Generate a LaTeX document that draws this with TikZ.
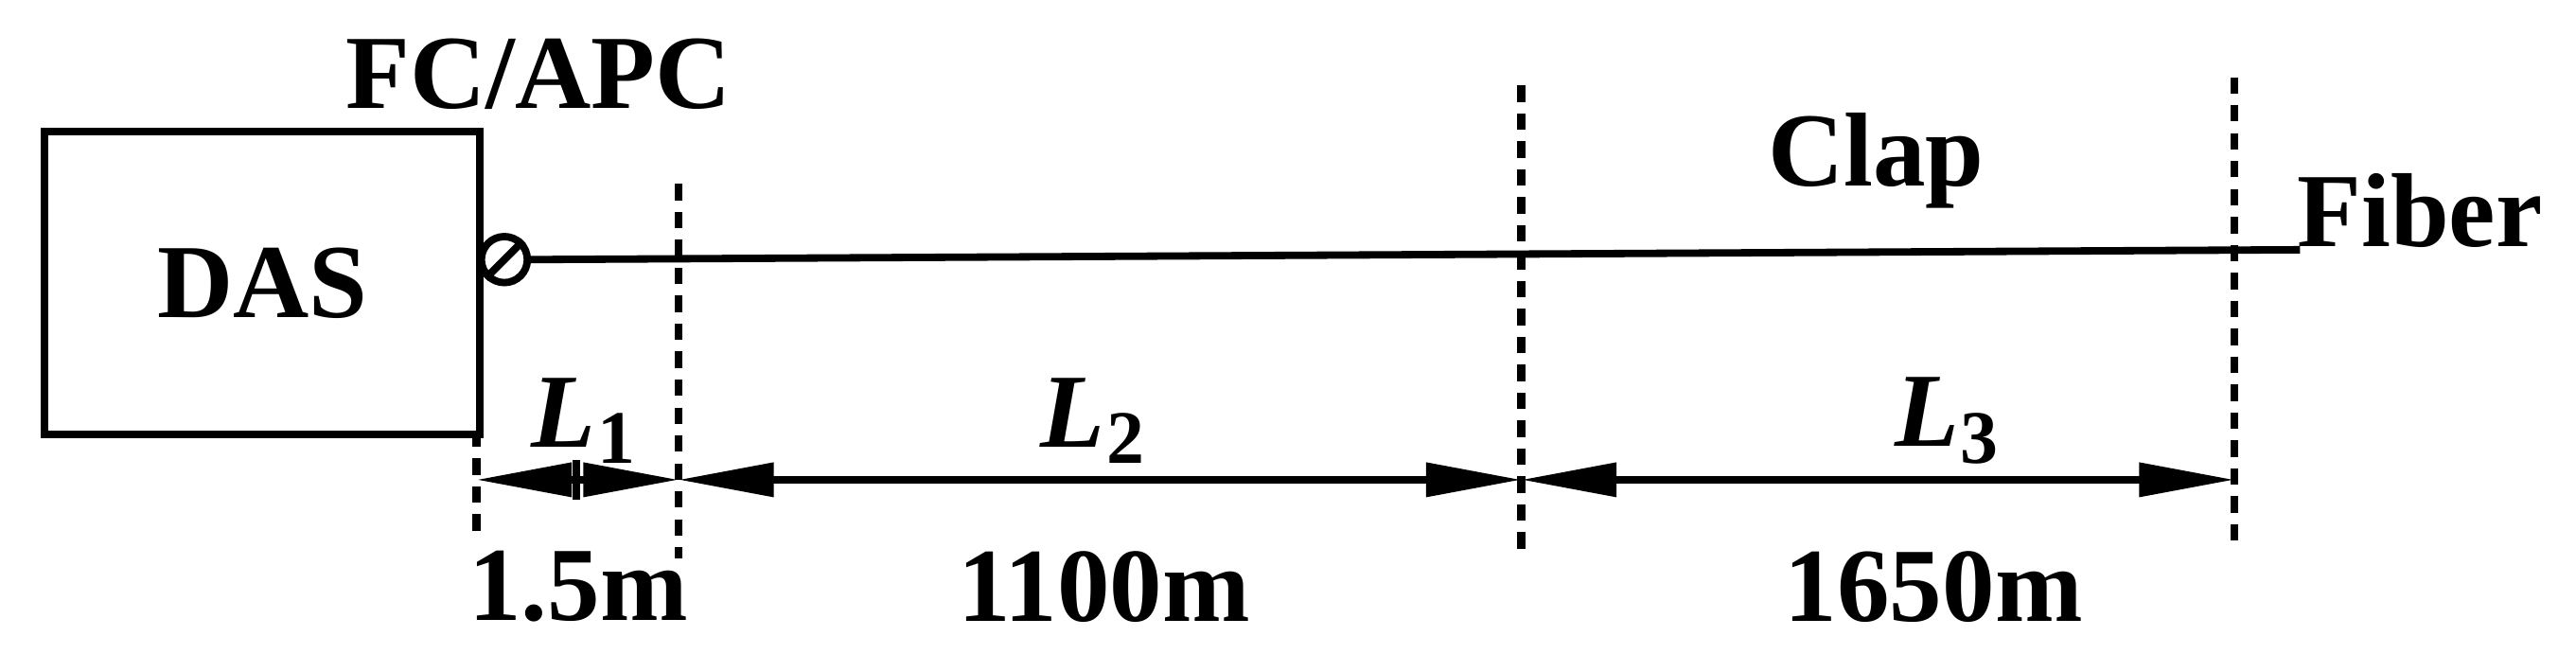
\documentclass[tikz,border=0pt]{standalone}
\usepackage{fontspec}
\setmainfont{Liberation Serif}
\usetikzlibrary{arrows.meta}
\begin{document}
\begin{tikzpicture}[x=1pt,y=-1pt,
  thk/.style={line width=4.5pt},
  vdash/.style={line width=5pt,dash pattern=on 10pt off 7pt},
  dim/.style={line width=4.5pt,-{Triangle[length=58pt,width=20pt]}},
  lbl/.style={font=\fontsize{64}{68}\selectfont\bfseries,inner sep=0pt}]
\useasboundingbox (0,0) rectangle (1568,398);
\node[draw,thk,minimum width=265pt,minimum height=184pt,anchor=north west,lbl] (das) at (25,78) {DAS};
\node[lbl] (fc) at (328,45) {FC/APC};
\node[draw,line width=4.5pt,circle,minimum size=28pt,inner sep=0pt] (con) at (307,158) {};
\draw[line width=4.5pt] (con.south west) -- (con.north east);
\coordinate (fend) at (1400,152);
\draw[thk] (con.east) -- (fend);
\node[lbl,anchor=west] (fib) at (1398,128) {Fiber};
\node[lbl] (clap) at (1142,98) {Clap};
\coordinate (a0) at (290,262); \coordinate (a1) at (290,330);
\coordinate (b0) at (413,112); \coordinate (b1) at (413,340);
\coordinate (c0) at (926,52); \coordinate (c1) at (926,340);
\coordinate (d0) at (1360,47); \coordinate (d1) at (1360,335);
\foreach \p/\q in {a0/a1,b0/b1,c0/c1,d0/d1} \draw[vdash] (\p) -- (\q);
\coordinate (m) at (351,292);
\coordinate (p0) at (290,292); \coordinate (p1) at (413,292);
\coordinate (p2) at (926,292); \coordinate (p3) at (1360,292);
\draw[dim] (m) -- (p0);
\draw[dim] (m) -- (p1);
\draw[line width=4.5pt] (351,280) -- (351,304);
\draw[dim] (669,292) -- (p1);
\draw[dim] (669,292) -- (p2);
\draw[dim] (1143,292) -- (p2);
\draw[dim] (1143,292) -- (p3);
\node[lbl] (l1) at (355,256) {\itshape L\kern1pt\raisebox{-10pt}{\fontsize{46}{50}\selectfont\upshape 1}};
\node[lbl] (l2) at (665,256) {\itshape L\kern1pt\raisebox{-10pt}{\fontsize{46}{50}\selectfont\upshape 2}};
\node[lbl] (l3) at (1185,256) {\itshape L\kern1pt\raisebox{-10pt}{\fontsize{46}{50}\selectfont\upshape 3}};
\node[lbl] (v1) at (352,357) {1.5m};
\node[lbl] (v2) at (672,357) {1100m};
\node[lbl] (v3) at (1177,357) {1650m};
\end{tikzpicture}
\end{document}
